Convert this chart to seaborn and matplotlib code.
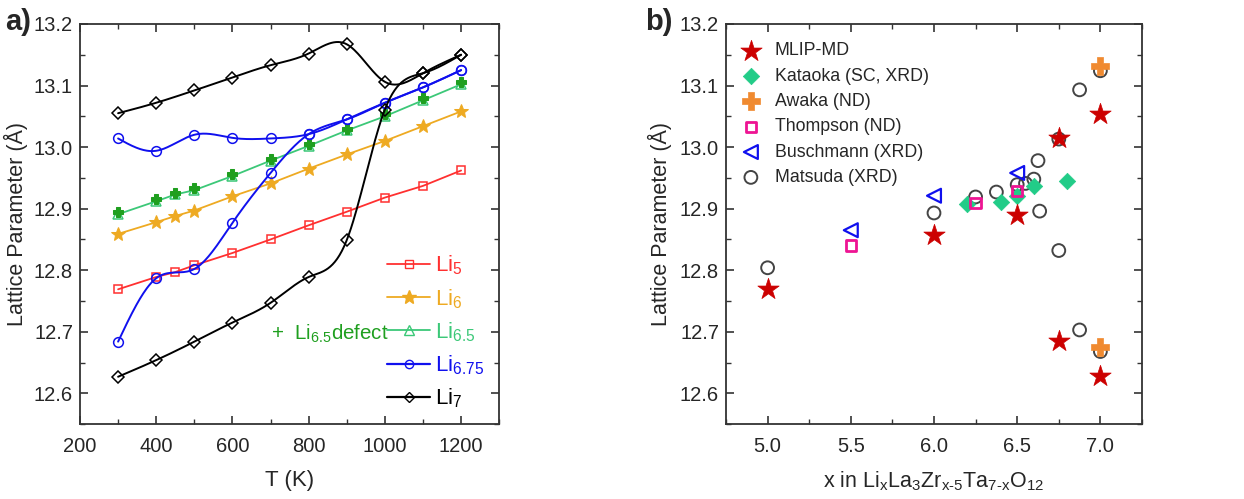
import numpy as np
import seaborn as sns
import matplotlib
matplotlib.use("Agg")
import matplotlib.pyplot as plt
from matplotlib.lines import Line2D
from matplotlib.ticker import MultipleLocator, FormatStrFormatter

# ---- panel a data (T in K, lattice parameter in Angstrom) ----
T_full = [300, 400, 450, 500, 600, 700, 800, 900, 1000, 1100, 1200]
T_main = [300, 400, 500, 600, 700, 800, 900, 1000, 1100, 1200]

li5 = [12.769, 12.789, 12.797, 12.808, 12.828, 12.850, 12.873, 12.895, 12.918, 12.937, 12.962]
li6 = [12.859, 12.878, 12.888, 12.897, 12.920, 12.941, 12.965, 12.988, 13.010, 13.034, 13.058]
li65 = [12.891, 12.912, 12.923, 12.930, 12.953, 12.978, 13.002, 13.027, 13.050, 13.076, 13.102]
li65_defect = [12.894, 12.915, 12.926, 12.933, 12.956, 12.981, 13.005, 13.030, 13.053, 13.079, 13.106]
li675_low = [12.684, 12.787, 12.802, 12.877, 12.958, 13.021, 13.045, 13.072, 13.097, 13.125]
li675_high = [13.014, 12.994, 13.020, 13.015, 13.014, 13.021, 13.045, 13.072, 13.097, 13.125]
li7_low = [12.627, 12.654, 12.684, 12.715, 12.747, 12.789, 12.849, 13.061, 13.120, 13.150]
li7_high = [13.055, 13.072, 13.092, 13.113, 13.133, 13.152, 13.167, 13.106, 13.120, 13.150]

# ---- panel b data (x in LixLa3Zr(x-5)Ta(7-x)O12) ----
mlip_x = [5.0, 6.0, 6.5, 6.75, 6.75, 7.0, 7.0]
mlip_y = [12.770, 12.857, 12.889, 13.014, 12.685, 13.054, 12.628]
kataoka_x = [6.2, 6.4, 6.5, 6.6, 6.8]
kataoka_y = [12.907, 12.911, 12.920, 12.936, 12.945]
awaka_x = [7.0, 7.0]
awaka_y = [13.131, 12.676]
thompson_x = [5.5, 6.25, 6.5]
thompson_y = [12.840, 12.909, 12.929]
buschmann_x = [5.5, 6.0, 6.5]
buschmann_y = [12.865, 12.921, 12.958]
matsuda_x = [5.0, 6.0, 6.25, 6.375, 6.5, 6.55, 6.6, 6.625, 6.635, 6.75, 6.75, 6.875, 6.875, 7.0, 7.0]
matsuda_y = [12.804, 12.893, 12.919, 12.927, 12.939, 12.941, 12.948, 12.978, 12.896, 13.013, 12.832, 13.093, 12.703, 13.124, 12.668]

RED = "#ff3030"
ORANGE = "#eeaa22"
LGREEN = "#3cc878"
DGREEN = "#1f9f1f"
BLUE = "#1010ee"
BLACK = "#000000"


def natural_spline(x, y, n=300):
    """smooth curve through the points (natural cubic spline)"""
    x = np.asarray(x, float)
    y = np.asarray(y, float)
    h = np.diff(x)
    m = len(x)
    A = np.zeros((m, m))
    r = np.zeros(m)
    A[0, 0] = A[-1, -1] = 1
    for i in range(1, m - 1):
        A[i, i - 1] = h[i - 1]
        A[i, i] = 2 * (h[i - 1] + h[i])
        A[i, i + 1] = h[i]
        r[i] = 6 * ((y[i + 1] - y[i]) / h[i] - (y[i] - y[i - 1]) / h[i - 1])
    M = np.linalg.solve(A, r)
    xs = np.linspace(x[0], x[-1], n)
    k = np.clip(np.searchsorted(x, xs) - 1, 0, m - 2)
    hk = h[k]
    a = (x[k + 1] - xs) / hk
    b = (xs - x[k]) / hk
    ys = (a * y[k] + b * y[k + 1]
          + ((a ** 3 - a) * M[k] + (b ** 3 - b) * M[k + 1]) * hk ** 2 / 6)
    return xs, ys


sns.set_style("ticks")
plt.rcParams["font.family"] = ["Liberation Sans", "DejaVu Sans"]
plt.rcParams["mathtext.fontset"] = "custom"
plt.rcParams["mathtext.rm"] = "Liberation Sans"
plt.rcParams["mathtext.it"] = "Liberation Sans"
plt.rcParams["mathtext.default"] = "rm"

fig = plt.figure(figsize=(12.44, 4.99), dpi=100)
ax1 = fig.add_axes([0.0643, 0.150, 0.337, 0.802])
ax2 = fig.add_axes([0.5836, 0.150, 0.3344, 0.802])

# ---- panel a ----
sns.lineplot(x=T_full, y=li5, ax=ax1, color=RED, lw=1.3, marker="s", ms=6,
             markerfacecolor="none", markeredgecolor=RED, markeredgewidth=1.1)
sns.lineplot(x=T_full, y=li6, ax=ax1, color=ORANGE, lw=1.3, marker="*", ms=10,
             markerfacecolor=ORANGE, markeredgecolor=ORANGE)
sns.lineplot(x=T_full, y=li65, ax=ax1, color=LGREEN, lw=1.3, marker="^", ms=7,
             markerfacecolor="none", markeredgecolor=LGREEN, markeredgewidth=1.1)
sns.lineplot(x=T_full, y=li65_defect, ax=ax1, color=DGREEN, lw=0, marker="P", ms=7,
             markerfacecolor=DGREEN, markeredgecolor=DGREEN)

for yy, col, mk, ms in [(li675_low, BLUE, "o", 7), (li675_high, BLUE, "o", 7),
                        (li7_low, BLACK, "D", 6.5), (li7_high, BLACK, "D", 6.5)]:
    xs, ys = natural_spline(T_main, yy)
    sns.lineplot(x=xs, y=ys, ax=ax1, color=col, lw=1.4)
    sns.lineplot(x=T_main, y=yy, ax=ax1, color=col, lw=0, marker=mk, ms=ms,
                 markerfacecolor="none", markeredgecolor=col, markeredgewidth=1.1)

ax1.set_xlim(200, 1300)
ax1.set_ylim(12.55, 13.2)
ax1.set_xlabel("T (K)", fontsize=16, labelpad=10)
ax1.set_ylabel("Lattice Parameter (Å)", fontsize=15.5, labelpad=4)

handles_a = [
    Line2D([], [], color=RED, lw=1.3, marker="s", ms=6, mfc="none", mec=RED),
    Line2D([], [], color=ORANGE, lw=1.3, marker="*", ms=10, mfc=ORANGE, mec=ORANGE),
    Line2D([], [], color=LGREEN, lw=1.3, marker="^", ms=7, mfc="none", mec=LGREEN),
    Line2D([], [], color=BLUE, lw=1.6, marker="o", ms=6, mfc="none", mec=BLUE),
    Line2D([], [], color=BLACK, lw=1.6, marker="D", ms=5.5, mfc="none", mec=BLACK),
]
labels_a = ["Li$_5$", "Li$_6$", "Li$_{6.5}$", "Li$_{6.75}$", "Li$_7$"]
leg = ax1.legend(handles_a, labels_a, loc="lower right", bbox_to_anchor=(0.985, 0.013),
                 frameon=False, fontsize=16, handlelength=1.95, handletextpad=0.2,
                 labelspacing=0.43, borderaxespad=0.0)
for txt, h in zip(leg.get_texts(), handles_a):
    txt.set_color(h.get_color())
ax1.text(0.455, 0.225, "+  Li$_{6.5}$defect", transform=ax1.transAxes, color=DGREEN,
         fontsize=14.8, ha="left", va="center")

# ---- panel b ----
sns.scatterplot(x=mlip_x, y=mlip_y, ax=ax2, marker="*", s=260, color="#cc0000",
                edgecolor="#cc0000", linewidth=0.5, label="MLIP-MD", zorder=4)
sns.scatterplot(x=kataoka_x, y=kataoka_y, ax=ax2, marker="D", s=70, color="#22cc88",
                edgecolor="#22cc88", linewidth=0.5, label="Kataoka (SC, XRD)", zorder=3)
sns.scatterplot(x=awaka_x, y=awaka_y, ax=ax2, marker="P", s=150, color="#f08a30",
                edgecolor="#f08a30", linewidth=0.5, label="Awaka (ND)", zorder=3)
sns.scatterplot(x=thompson_x, y=thompson_y, ax=ax2, marker="s", s=55, facecolor="none",
                edgecolor="#ee1493", linewidth=2.0, label="Thompson (ND)", zorder=3)
sns.scatterplot(x=buschmann_x, y=buschmann_y, ax=ax2, marker="<", s=100, facecolor="none",
                edgecolor="#1010ee", linewidth=1.6, label="Buschmann (XRD)", zorder=3)
sns.scatterplot(x=matsuda_x, y=matsuda_y, ax=ax2, marker="o", s=85, facecolor="none",
                edgecolor="#444444", linewidth=1.4, label="Matsuda (XRD)", zorder=2)

ax2.set_xlim(4.75, 7.25)
ax2.set_ylim(12.55, 13.2)
ax2.set_xlabel(r"x in Li$_x$La$_3$Zr$_{x\text{-}5}$Ta$_{7\text{-}x}$O$_{12}$",
               fontsize=15.5, labelpad=10)
ax2.set_ylabel("Lattice Parameter (Å)", fontsize=15.5, labelpad=6)
ax2.legend(loc="upper left", frameon=False, fontsize=12.8, handletextpad=0.35,
           labelspacing=0.47, borderaxespad=0.0, bbox_to_anchor=(0.0, 0.972),
           borderpad=0.4)

for ax, xmaj, xmin in [(ax1, 200, 100), (ax2, 0.5, 0.25)]:
    ax.xaxis.set_major_locator(MultipleLocator(xmaj))
    ax.xaxis.set_minor_locator(MultipleLocator(xmin))
    ax.yaxis.set_major_locator(MultipleLocator(0.1))
    ax.yaxis.set_minor_locator(MultipleLocator(0.05))
    ax.tick_params(which="both", direction="in", top=True, right=True,
                   labelsize=14.5, color="#333333")
    ax.tick_params(which="major", length=6, width=1.2, pad=5)
    ax.tick_params(which="minor", length=3.5, width=1.0)
    ax.tick_params(axis="x", which="major", pad=9)
    for sp in ax.spines.values():
        sp.set_visible(True)
        sp.set_linewidth(1.3)
        sp.set_color("#333333")
    ax.yaxis.set_major_formatter(FormatStrFormatter("%.1f"))
ax2.xaxis.set_major_formatter(FormatStrFormatter("%.1f"))

fig.text(0.004, 0.956, "a)", fontsize=21, fontweight="bold", va="center")
fig.text(0.5185, 0.956, "b)", fontsize=21, fontweight="bold", va="center")

fig.savefig("out.png", dpi=100)
